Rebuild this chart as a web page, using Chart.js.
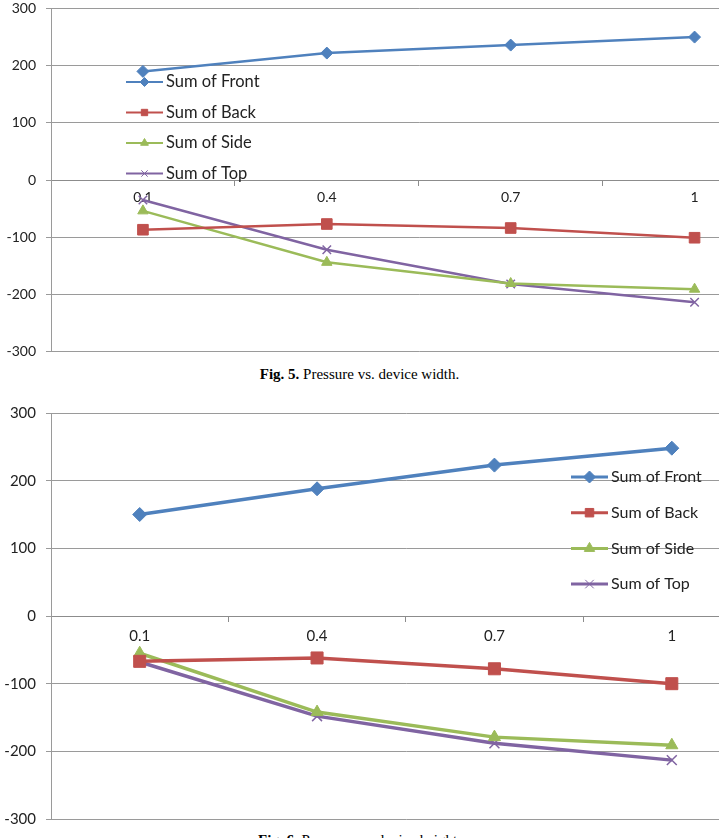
<!DOCTYPE html>
<html>
<head>
<meta charset="utf-8">
<script src="https://cdn.jsdelivr.net/npm/chart.js@4.4.1/dist/chart.umd.min.js"></script>
<style>
  html, body { margin: 0; padding: 0; background: #fff; }
  body { width: 719px; height: 838px; overflow: hidden; position: relative; }
  .box { position: absolute; left: 0; overflow: hidden; }
  .cap { position: absolute; left: 0; width: 719px; text-align: center;
         font-family: "Liberation Serif", "Times New Roman", serif; font-size: 15px; line-height: 17px; color: #000; }
  .cap b { font-weight: bold; }
</style>
</head>
<body>
<div class="box" id="box1" style="top:0;width:719px;height:362px"><canvas id="c1"></canvas></div>
<div class="cap" style="top:366px"><b>Fig. 5.</b> Pressure vs. device width.</div>
<div class="box" id="box2" style="top:400px;width:719px;height:432px"><canvas id="c2"></canvas></div>
<div class="cap" style="top:832px"><b>Fig. 6.</b> Pressure vs. device height.</div>
<script>
// categories (x)
const categories = ['0.1', '0.4', '0.7', '1'];
const seriesNames = ['Sum of Front', 'Sum of Back', 'Sum of Side', 'Sum of Top'];
const yTicks = [-300, -200, -100, 0, 100, 200, 300];

// Fig. 5 - pressure vs. device width
const widthFront = [190, 222, 236, 250];
const widthBack  = [-87, -77, -84, -101];
const widthSide  = [-54, -144, -181, -191];
const widthTop   = [-35, -122, -182, -214];

// Fig. 6 - pressure vs. device height
const heightFront = [150, 188, 223, 248];
const heightBack  = [-67, -62, -78, -100];
const heightSide  = [-55, -142, -179, -191];
const heightTop   = [-68, -148, -188, -213];

const COLORS = ['#4F81BD', '#C0504D', '#9BBB59', '#8064A2'];
const STYLES = ['rectRot', 'rect', 'triangle', 'crossRot'];

// legend drawn inside the plot, excel style (line + marker + text)
const insideLegend = {
  id: 'insideLegend',
  afterDraw(chart, args, opts) {
    const ctx = chart.ctx;
    ctx.save();
    ctx.font = opts.fontSize + 'px Lato, "Open Sans", sans-serif';
    ctx.textBaseline = 'middle';
    chart.data.datasets.forEach((ds, i) => {
      const y = opts.y + i * opts.dy;
      ctx.strokeStyle = ds.borderColor;
      ctx.lineWidth = opts.lineWidth;
      ctx.beginPath();
      ctx.moveTo(opts.x, y);
      ctx.lineTo(opts.x + opts.len, y);
      ctx.stroke();
      ctx.fillStyle = ds.borderColor;
      ctx.lineWidth = 1;
      Chart.helpers.drawPoint(ctx, {
        pointStyle: ds.pointStyle, rotation: 0,
        radius: opts.radius, borderWidth: 1
      }, opts.x + opts.len / 2, y);
      ctx.fillStyle = '#222';
      ctx.fillText(ds.label, opts.x + opts.len + 3, y);
    });
    ctx.restore();
  }
};

function makeDatasets(values, lw, radius) {
  return values.map((v, i) => ({
    label: seriesNames[i],
    data: v,
    borderColor: COLORS[i],
    backgroundColor: COLORS[i],
    pointBackgroundColor: COLORS[i],
    pointBorderColor: COLORS[i],
    pointStyle: STYLES[i],
    pointRadius: STYLES[i] === 'rect' ? radius + 1.5 : radius,
    pointBorderWidth: STYLES[i] === 'crossRot' ? 1.5 : 1,
    borderWidth: lw,
    tension: 0
  }));
}

function makeChart(id, w, h, pad, values, lw, radius, fontSize, tickPad, legend) {
  const el = document.getElementById(id);
  el.width = w; el.height = h;
  el.style.width = w + 'px'; el.style.height = h + 'px';
  return new Chart(el, {
    type: 'line',
    data: { labels: categories, datasets: makeDatasets(values, lw, radius) },
    plugins: [insideLegend],
    options: {
      responsive: false,
      animation: false,
      layout: { padding: pad },
      plugins: {
        legend: { display: false },
        tooltip: { enabled: false },
        insideLegend: legend
      },
      scales: {
        x: {
          type: 'category',
          position: { y: 0 },
          offset: true,
          afterFit(scale) { scale.paddingLeft = 0; scale.paddingRight = 0; },
          grid: { offset: true, drawOnChartArea: false, drawTicks: true, tickLength: 5, color: '#8c8c8c' },
          border: { display: true, color: '#8c8c8c' },
          ticks: { color: '#222', padding: tickPad, maxRotation: 0, font: { family: 'Lato', size: fontSize } }
        },
        y: {
          min: -300, max: 300,
          afterFit(scale) { scale.width = 51; scale.paddingTop = 0; scale.paddingBottom = 0; },
          afterBuildTicks(scale) { scale.ticks = yTicks.map(v => ({ value: v })); },
          grid: { color: '#9a9a9a', tickLength: 5, drawTicks: true },
          border: { display: true, color: '#9a9a9a' },
          ticks: { color: '#222', padding: 10, font: { family: 'Lato', size: fontSize } }
        }
      }
    }
  });
}

makeChart('c1', 795, 360, { top: 7, bottom: 7, left: 0, right: 0 },
  [widthFront, widthBack, widthSide, widthTop], 2.5, 6, 14, 4,
  { x: 126, y: 82, dy: 30.5, len: 37, radius: 4.5, lineWidth: 2, fontSize: 16.5 });

makeChart('c2', 770, 430, { top: 13, bottom: 11, left: 0, right: 0 },
  [heightFront, heightBack, heightSide, heightTop], 3.5, 7, 15, 6,
  { x: 571, y: 77, dy: 35.7, len: 37, radius: 6, lineWidth: 3, fontSize: 16 });
</script>
</body>
</html>
